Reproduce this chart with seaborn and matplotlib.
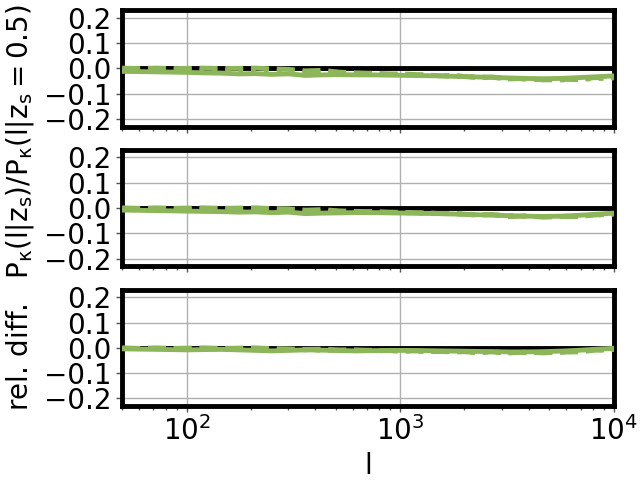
import matplotlib
matplotlib.use("Agg")
import matplotlib.pyplot as plt
import seaborn as sns
import numpy as np

sns.set_style("whitegrid", {"axes.edgecolor": "black", "xtick.bottom": True,
                            "ytick.left": True, "grid.color": "#b0b0b0",
                            "text.color": "black", "axes.labelcolor": "black",
                            "xtick.color": "black", "ytick.color": "black"})
plt.rcParams["font.family"] = ["DejaVu Sans"]
plt.rcParams["font.size"] = 20
plt.rcParams["mathtext.default"] = "regular"

ell = [50, 60, 72, 86, 100, 120, 145, 175, 210, 250, 300, 360, 430, 520, 620,
       750, 900, 1080, 1300, 1560, 1870, 2250, 2700, 3240, 3890, 4670, 5600,
       6720, 8060, 10000]

# panel 1 (z_s bin 1)
p1_solid = [-0.012, -0.013, -0.014, -0.015, -0.016, -0.018, -0.019, -0.022, -0.021,
            -0.024, -0.022, -0.028, -0.026, -0.025, -0.026, -0.026, -0.027, -0.028,
            -0.029, -0.030, -0.032, -0.034, -0.036, -0.038, -0.040, -0.041, -0.040,
            -0.037, -0.034, -0.030]
p1_dash = [0.001, -0.001, 0.001, -0.001, 0.000, 0.001, -0.001, 0.000, 0.001,
           -0.002, -0.004, -0.010, -0.008, -0.015, -0.018, -0.020, -0.022, -0.023,
           -0.026, -0.030, -0.030, -0.036, -0.034, -0.042, -0.040, -0.046, -0.043,
           -0.045, -0.037, -0.036]
p1_dot = [-0.002, -0.004, -0.003, -0.006, -0.005, -0.007, -0.008, -0.009, -0.010,
          -0.012, -0.013, -0.016, -0.017, -0.019, -0.021, -0.022, -0.024, -0.025,
          -0.027, -0.029, -0.031, -0.034, -0.037, -0.040, -0.043, -0.045, -0.046,
          -0.044, -0.041, -0.038]

# panel 2
p2_solid = [-0.008, -0.009, -0.010, -0.011, -0.012, -0.013, -0.014, -0.016, -0.015,
            -0.018, -0.016, -0.022, -0.020, -0.019, -0.018, -0.018, -0.019, -0.020,
            -0.021, -0.022, -0.024, -0.026, -0.028, -0.030, -0.032, -0.033, -0.032,
            -0.029, -0.025, -0.020]
p2_dash = [0.001, -0.001, 0.001, -0.001, 0.000, 0.001, -0.001, 0.000, 0.001,
           -0.002, -0.003, -0.008, -0.006, -0.011, -0.013, -0.014, -0.016, -0.017,
           -0.019, -0.022, -0.022, -0.028, -0.025, -0.034, -0.031, -0.036, -0.033,
           -0.034, -0.028, -0.022]
p2_dot = [-0.002, -0.003, -0.003, -0.004, -0.004, -0.005, -0.006, -0.007, -0.008,
          -0.009, -0.010, -0.012, -0.013, -0.014, -0.015, -0.016, -0.017, -0.018,
          -0.020, -0.021, -0.023, -0.025, -0.027, -0.030, -0.032, -0.034, -0.034,
          -0.032, -0.028, -0.024]

# panel 3
p3_solid = [-0.004, -0.005, -0.006, -0.007, -0.008, -0.007, -0.006, -0.008, -0.010,
            -0.012, -0.010, -0.008, -0.009, -0.011, -0.012, -0.011, -0.010, -0.010,
            -0.011, -0.012, -0.013, -0.014, -0.015, -0.016, -0.016, -0.015, -0.013,
            -0.010, -0.006, -0.002]
p3_dash = [0.000, -0.002, 0.000, -0.002, -0.001, 0.000, -0.002, -0.001, 0.000,
           -0.003, -0.004, -0.006, -0.005, -0.008, -0.008, -0.010, -0.011, -0.012,
           -0.013, -0.015, -0.014, -0.018, -0.016, -0.020, -0.017, -0.020, -0.017,
           -0.016, -0.010, -0.006]
p3_dot = [-0.002, -0.003, -0.003, -0.004, -0.004, -0.005, -0.005, -0.006, -0.006,
          -0.007, -0.007, -0.008, -0.009, -0.010, -0.010, -0.011, -0.012, -0.013,
          -0.014, -0.015, -0.016, -0.017, -0.018, -0.019, -0.019, -0.019, -0.017,
          -0.014, -0.010, -0.006]

panels = [(p1_solid, p1_dash, p1_dot), (p2_solid, p2_dash, p2_dot),
          (p3_solid, p3_dash, p3_dot)]
yticks = [-0.2, -0.1, 0.0, 0.1, 0.2]
green = "#8db55a"

fig, axes = plt.subplots(3, 1, figsize=(6.4, 4.8), dpi=100, sharex=True)
fig.subplots_adjust(left=0.191, right=0.959, top=0.979, bottom=0.154, hspace=0.2)

for ax, (s, d, o) in zip(axes, panels):
    ax.axhline(0, color="black", lw=3.5, zorder=2)
    sns.lineplot(x=ell, y=s, ax=ax, color=green, lw=3.5, linestyle="-", zorder=3)
    sns.lineplot(x=ell, y=d, ax=ax, color=green, lw=3.5, linestyle="--", zorder=3)
    sns.lineplot(x=ell, y=o, ax=ax, color=green, lw=3.5, linestyle=":", zorder=3)
    ax.set_xscale("log")
    ax.set_xlim(50, 1e4)
    ax.set_ylim(-0.23, 0.23)
    ax.set_yticks(yticks)
    ax.set_yticklabels([f"{v:.1f}".replace("-", "\u2212") for v in yticks])
    for sp in ax.spines.values():
        sp.set_linewidth(3.5)
        sp.set_color("black")
    ax.grid(True, which="major", color="#b0b0b0", lw=1)
    ax.grid(False, which="minor")
    ax.tick_params(axis="both", which="both", color="#555555", length=4, width=1,
                   labelsize=20, labelcolor="black", direction="out")
    ax.tick_params(axis="x", which="minor", length=3)

axes[1].set_ylabel(r"$rel.\,diff.\ \ P_\kappa(l|z_s)/P_\kappa(l|z_s=0.5)$",
                   fontsize=20, labelpad=6, color="black")
axes[2].set_xlabel("l", fontsize=20, color="black")
axes[2].set_xticks([1e2, 1e3, 1e4])
axes[2].set_xticklabels([r"$10^2$", r"$10^3$", r"$10^4$"])

fig.savefig("out.png", dpi=100)
